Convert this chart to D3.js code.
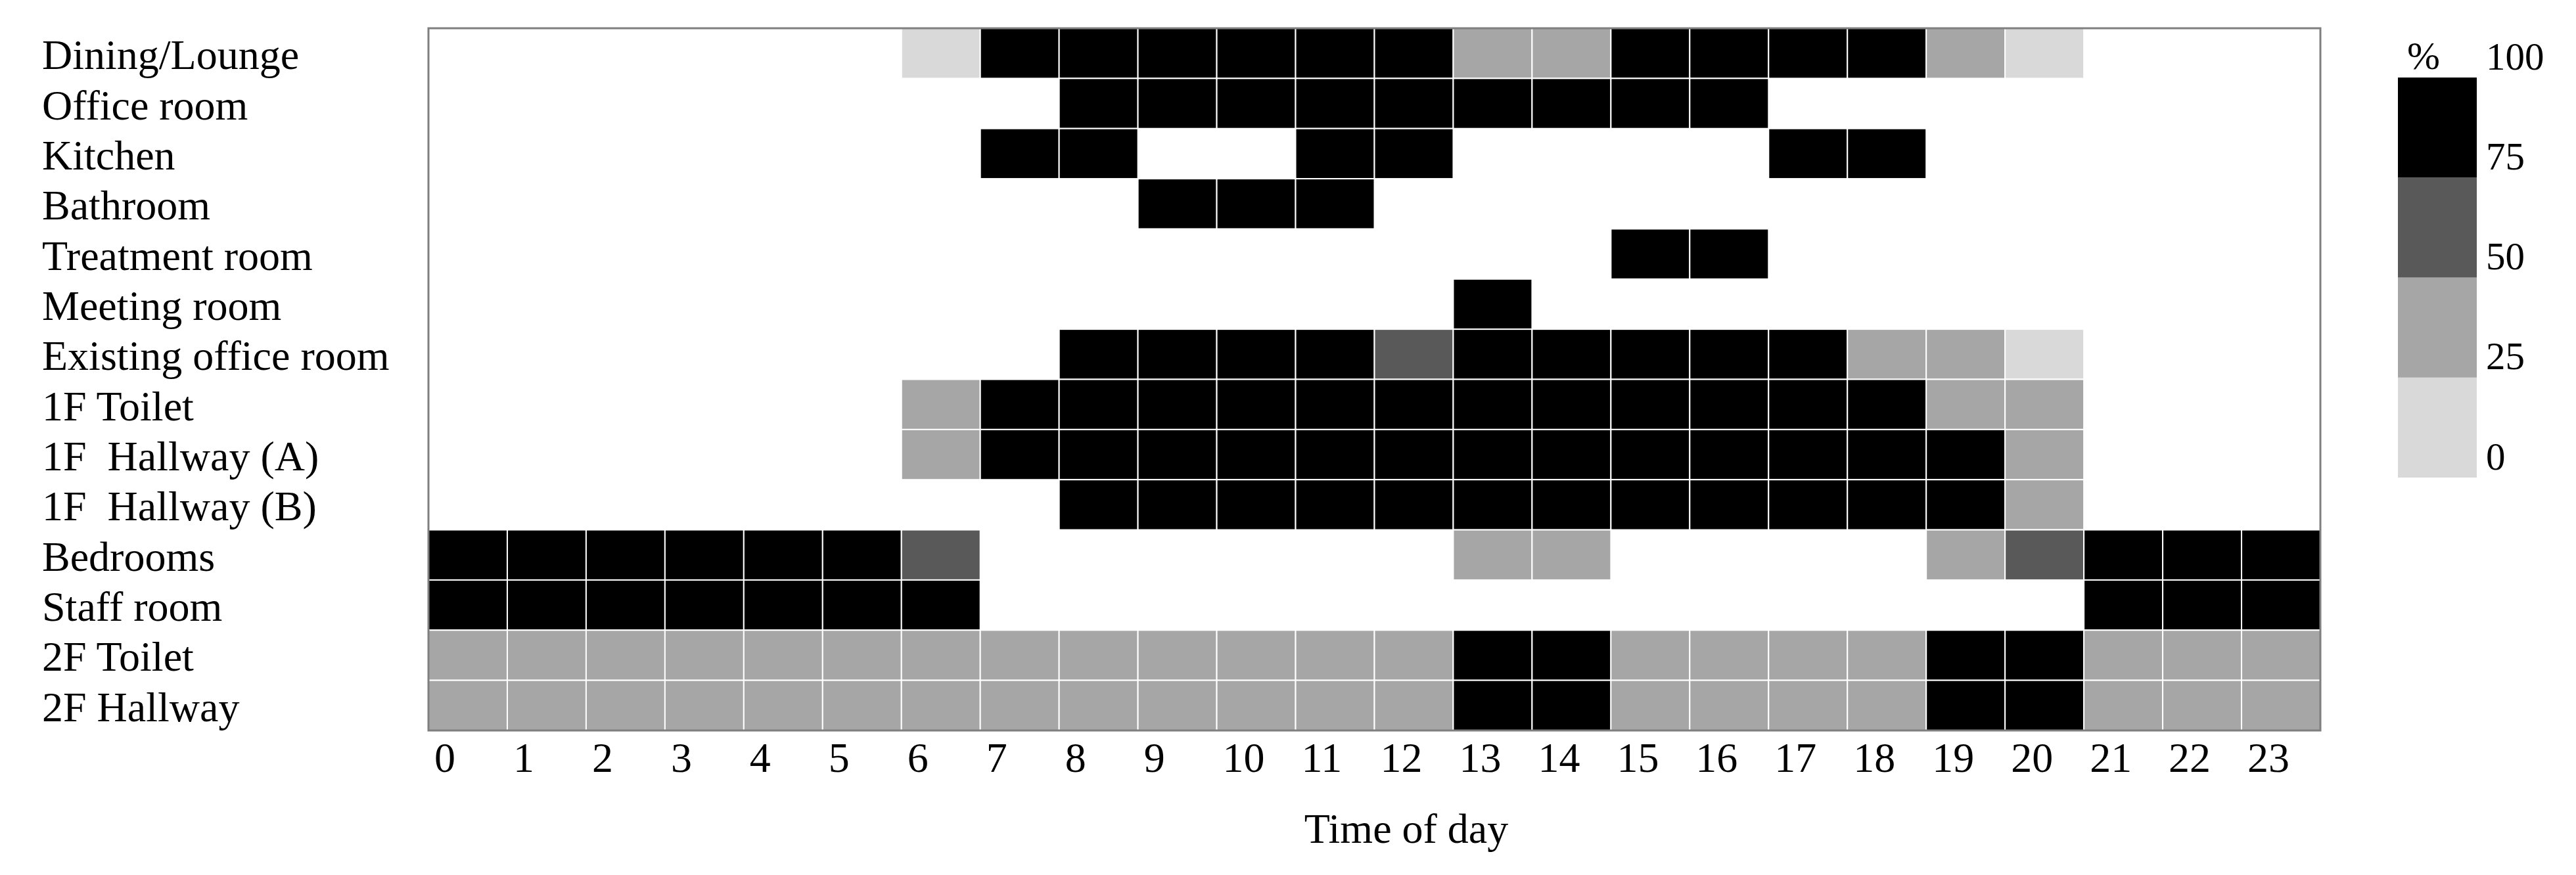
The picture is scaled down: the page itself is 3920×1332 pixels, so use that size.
<!DOCTYPE html>
<html>
<head>
<meta charset="utf-8">
<script src="https://cdn.jsdelivr.net/npm/d3@7"></script>
<style>
  html, body { margin: 0; padding: 0; background: #fff; }
  svg { display: block; }
  text { font-family: "Liberation Serif", "Times New Roman", serif; fill: #000; }
</style>
</head>
<body>
<svg id="chart" width="3920" height="1332"></svg>
<script>
// ---- data ----
const rooms = [
  "Dining/Lounge", "Office room", "Kitchen", "Bathroom", "Treatment room",
  "Meeting room", "Existing office room", "1F Toilet", "1F  Hallway (A)",
  "1F  Hallway (B)", "Bedrooms", "Staff room", "2F Toilet", "2F Hallway"
];
const hours = d3.range(0, 24).map(String);
const hourLabels = ["0","1","2","3","4","5","6","7","8","9","10","11","12","13","14","15","16","17","18","19","20","21","22","23"];

// occupancy (%) per hour, null = no use (white)
const diningLounge      = [null,null,null,null,null,null,10,90,90,90,90,90,90,40,40,90,90,90,90,40,10,null,null,null];
const officeRoom        = [null,null,null,null,null,null,null,null,90,90,90,90,90,90,90,90,90,null,null,null,null,null,null,null];
const kitchen           = [null,null,null,null,null,null,null,90,90,null,null,90,90,null,null,null,null,90,90,null,null,null,null,null];
const bathroom          = [null,null,null,null,null,null,null,null,null,90,90,90,null,null,null,null,null,null,null,null,null,null,null,null];
const treatmentRoom     = [null,null,null,null,null,null,null,null,null,null,null,null,null,null,null,90,90,null,null,null,null,null,null,null];
const meetingRoom       = [null,null,null,null,null,null,null,null,null,null,null,null,null,90,null,null,null,null,null,null,null,null,null,null];
const existingOffice    = [null,null,null,null,null,null,null,null,90,90,90,90,60,90,90,90,90,90,40,40,10,null,null,null];
const toilet1F          = [null,null,null,null,null,null,40,90,90,90,90,90,90,90,90,90,90,90,90,40,40,null,null,null];
const hallwayA1F        = [null,null,null,null,null,null,40,90,90,90,90,90,90,90,90,90,90,90,90,90,40,null,null,null];
const hallwayB1F        = [null,null,null,null,null,null,null,null,90,90,90,90,90,90,90,90,90,90,90,90,40,null,null,null];
const bedrooms          = [90,90,90,90,90,90,60,null,null,null,null,null,null,40,40,null,null,null,null,40,60,90,90,90];
const staffRoom         = [90,90,90,90,90,90,90,null,null,null,null,null,null,null,null,null,null,null,null,null,null,90,90,90];
const toilet2F          = [40,40,40,40,40,40,40,40,40,40,40,40,40,90,90,40,40,40,40,90,90,40,40,40];
const hallway2F         = [40,40,40,40,40,40,40,40,40,40,40,40,40,90,90,40,40,40,40,90,90,40,40,40];

const series = [diningLounge, officeRoom, kitchen, bathroom, treatmentRoom, meetingRoom,
  existingOffice, toilet1F, hallwayA1F, hallwayB1F, bedrooms, staffRoom, toilet2F, hallway2F];

const legendTicks = [0, 25, 50, 75, 100];
const legendColors = ["#d9d9d9", "#a6a6a6", "#595959", "#000000"];

// ---- layout ----
const svg = d3.select("#chart");
const plot = { left: 652, right: 3531, top: 43, bottom: 1112 };

const x = d3.scaleBand().domain(hours).range([plot.left, plot.right]).padding(0);
const y = d3.scaleBand().domain(rooms).range([plot.top, plot.bottom]).padding(0);
const color = d3.scaleThreshold().domain([25, 50, 75]).range(legendColors);

const cells = [];
series.forEach((vals, r) => vals.forEach((v, h) => {
  if (v !== null) cells.push({ room: rooms[r], hour: hours[h], value: v });
}));

svg.append("g").selectAll("rect").data(cells).join("rect")
  .attr("x", d => x(d.hour))
  .attr("y", d => y(d.room))
  .attr("width", x.bandwidth())
  .attr("height", y.bandwidth())
  .attr("fill", d => color(d.value))
  .attr("stroke", "#ffffff")
  .attr("stroke-width", 2);

// border
svg.append("rect")
  .attr("x", plot.left).attr("y", plot.top)
  .attr("width", plot.right - plot.left).attr("height", plot.bottom - plot.top)
  .attr("fill", "none").attr("stroke", "#7f7f7f").attr("stroke-width", 3);

// x axis
const xAxis = svg.append("g")
  .attr("transform", `translate(0,${plot.bottom})`)
  .call(d3.axisBottom(x).tickSize(0).tickFormat((d, i) => hourLabels[i]));
xAxis.select(".domain").remove();
xAxis.selectAll("text")
  .attr("text-anchor", "start")
  .attr("x", -x.bandwidth() / 2 + 9)
  .attr("y", 63)
  .attr("dy", null)
  .style("font-family", "Liberation Serif")
  .style("font-size", "64px")
  .attr("fill", "#000");

// y axis (labels left-aligned)
const yAxis = svg.append("g")
  .attr("transform", `translate(${plot.left},0)`)
  .call(d3.axisLeft(y).tickSize(0));
yAxis.select(".domain").remove();
yAxis.selectAll("text")
  .attr("text-anchor", "start")
  .attr("x", 64 - plot.left)
  .attr("dy", 24)
  .style("white-space", "pre")
  .style("font-family", "Liberation Serif")
  .style("font-size", "64px")
  .attr("fill", "#000");

// x title
svg.append("text")
  .attr("x", 2140).attr("y", 1283)
  .attr("text-anchor", "middle")
  .style("font-size", "64px")
  .text("Time of day");

// legend
const ly = d3.scaleLinear().domain([0, 100]).range([727, 118]);
const legendX = 3649, legendW = 120;
const lg = svg.append("g");
lg.selectAll("rect").data(legendColors).join("rect")
  .attr("x", legendX)
  .attr("y", (c, i) => ly(legendTicks[i + 1]))
  .attr("width", legendW)
  .attr("height", (c, i) => ly(legendTicks[i]) - ly(legendTicks[i + 1]))
  .attr("fill", c => c);
lg.selectAll("text.tick").data(legendTicks).join("text")
  .attr("class", "tick")
  .attr("x", 3783)
  .attr("y", d => ly(d) - 33)
  .attr("dy", "0.35em")
  .style("font-size", "59px")
  .text(d => d);
lg.append("text")
  .attr("x", 3688).attr("y", 105)
  .attr("text-anchor", "middle")
  .style("font-size", "60px")
  .text("%");
</script>
</body>
</html>
